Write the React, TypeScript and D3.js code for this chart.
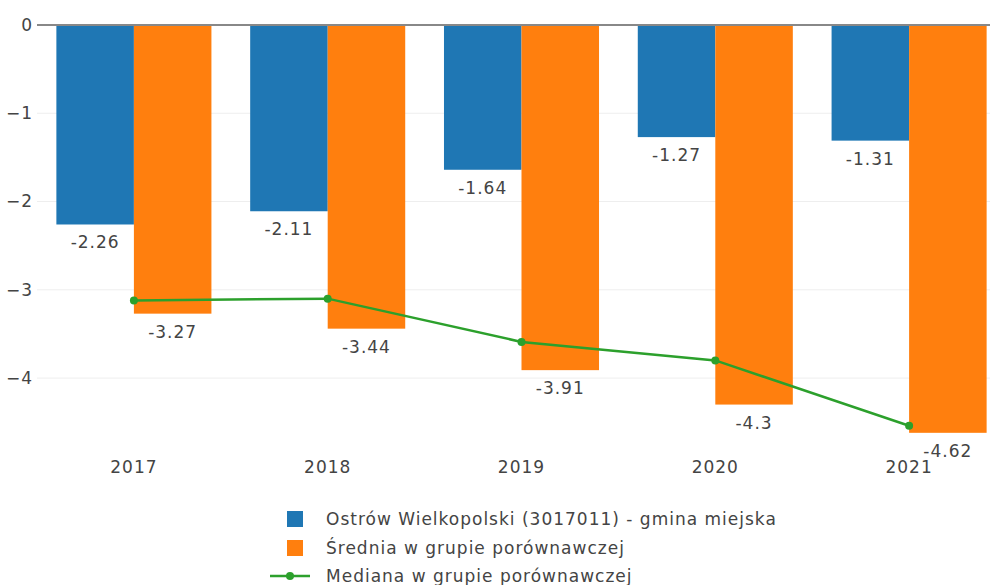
import * as d3 from "d3";

const years = ["2017", "2018", "2019", "2020", "2021"];
const gmina = [-2.26, -2.11, -1.64, -1.27, -1.31];
const srednia = [-3.27, -3.44, -3.91, -4.3, -4.62];
const mediana = [-3.12, -3.1, -3.59, -3.8, -4.54];
const yTicks = [0, -1, -2, -3, -4];

const seriesNames = [
  "Ostrów Wielkopolski (3017011) - gmina miejska",
  "Średnia w grupie porównawczej",
  "Mediana w grupie porównawczej",
];

const W = 990;
const H = 585;
const FONT = "Verdana, 'DejaVu Sans', sans-serif";
const FS = 17;
const LS = 1;

export default function App() {
  const x = d3.scaleBand().domain(years).range([37, 1006]).paddingInner(0.2).paddingOuter(0.1);
  const bw = x.bandwidth() / 2;
  const y = d3.scaleLinear().domain([0, -4.86]).range([25, 454]);
  const fmt = (v: number) => String(v);
  const tickFmt = (v: number) => (v === 0 ? "0" : "\u2212" + Math.abs(v));

  const line = d3
    .line<number>()
    .x((_, i) => (x(years[i]) as number) + bw)
    .y((d) => y(d));

  return (
    <svg width={W} height={H} style={{ position: "absolute", left: 0, top: 0 }} fontFamily={FONT}>
      <rect width={W} height={H} fill="#fff" />
      {yTicks.map((t) => (
        <g key={t}>
          {t !== 0 && <line x1={37} x2={W} y1={y(t)} y2={y(t)} stroke="#eee" strokeWidth={1} />}
          <text x={33} y={y(t)} dy="0.35em" textAnchor="end" fontSize={FS} letterSpacing={LS} fill="#444">
            {tickFmt(t)}
          </text>
        </g>
      ))}
      {years.map((yr, i) => {
        const x0 = x(yr) as number;
        return (
          <g key={yr} fontSize={FS} letterSpacing={LS} fill="#444">
            <rect x={x0} y={y(0)} width={bw} height={y(gmina[i]) - y(0)} fill="#1f77b4" />
            <rect x={x0 + bw} y={y(0)} width={bw} height={y(srednia[i]) - y(0)} fill="#ff7f0e" />
            <text x={x0 + bw / 2} y={y(gmina[i]) + 18} dy="0.35em" textAnchor="middle">
              {fmt(gmina[i])}
            </text>
            <text x={x0 + bw * 1.5} y={y(srednia[i]) + 18} dy="0.35em" textAnchor="middle">
              {fmt(srednia[i])}
            </text>
            <text x={x0 + bw} y={467} dy="0.35em" textAnchor="middle">
              {yr}
            </text>
          </g>
        );
      })}
      <line x1={37} x2={W} y1={y(0)} y2={y(0)} stroke="#888" strokeWidth={2} />
      <path d={line(mediana) || ""} fill="none" stroke="#2ca02c" strokeWidth={2.5} />
      {mediana.map((v, i) => (
        <circle key={i} cx={(x(years[i]) as number) + bw} cy={y(v)} r={4} fill="#2ca02c" />
      ))}
      <g fontSize={FS} letterSpacing={LS} fill="#444">
        <rect x={287} y={511} width={16} height={16} fill="#1f77b4" />
        <text x={326} y={519} dy="0.35em">{seriesNames[0]}</text>
        <rect x={287} y={540} width={16} height={16} fill="#ff7f0e" />
        <text x={326} y={548} dy="0.35em">{seriesNames[1]}</text>
        <line x1={270} x2={310} y1={576} y2={576} stroke="#2ca02c" strokeWidth={2.5} />
        <circle cx={290} cy={576} r={4} fill="#2ca02c" />
        <text x={326} y={576} dy="0.35em">{seriesNames[2]}</text>
      </g>
    </svg>
  );
}
